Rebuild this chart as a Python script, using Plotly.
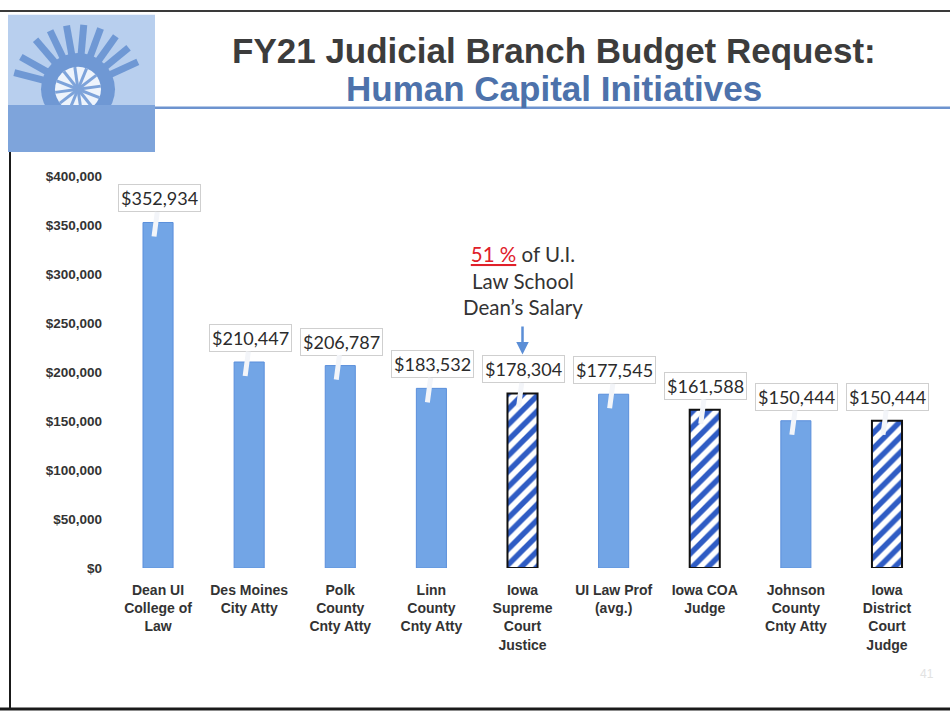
import math
import plotly.graph_objects as go

# ---------------- data ----------------
categories = [
    "Dean UI<br>College of<br>Law",
    "Des Moines<br>City Atty",
    "Polk<br>County<br>Cnty Atty",
    "Linn<br>County<br>Cnty Atty",
    "Iowa<br>Supreme<br>Court<br>Justice",
    "UI Law Prof<br>(avg.)",
    "Iowa COA<br>Judge",
    "Johnson<br>County<br>Cnty Atty",
    "Iowa<br>District<br>Court<br>Judge",
]
salaries = [352934, 210447, 206787, 183532, 178304, 177545, 161588, 150444, 150444]
is_judicial = [False, False, False, False, True, False, True, False, True]
y_ticks = [0, 50000, 100000, 150000, 200000, 250000, 300000, 350000, 400000]

title_line1 = "FY21 Judicial Branch Budget Request:"
title_line2 = "Human Capital Initiatives"
note_text = '<span style="color:#e0202a"><u>51 %</u></span> of U.I.<br>Law School<br>Dean’s Salary'
note_category = categories[4]
note_value = salaries[4]

W, H = 950, 721
def px(x):
    return x / W
def py(y):
    return 1 - y / H

SOLID = "#72a5e6"
SOLID_EDGE = "#5b8fdb"
STRIPE = "#2f5cc4"

solid_x = [c for c, j in zip(categories, is_judicial) if not j]
solid_y = [v for v, j in zip(salaries, is_judicial) if not j]
hatch_x = [c for c, j in zip(categories, is_judicial) if j]
hatch_y = [v for v, j in zip(salaries, is_judicial) if j]

fig = go.Figure()
fig.add_trace(go.Bar(
    x=solid_x, y=solid_y, width=0.33,
    marker=dict(color=SOLID, line=dict(color=SOLID_EDGE, width=1)),
    showlegend=False,
))
fig.add_trace(go.Bar(
    x=hatch_x, y=hatch_y, width=0.33,
    marker=dict(color="white", line=dict(color="#111111", width=2),
                pattern=dict(shape="/", fgcolor=STRIPE, bgcolor="white",
                             fgopacity=1, size=11, solidity=0.5)),
    showlegend=False,
))

annotations = []
# data-label callouts
for c, v in zip(categories, salaries):
    annotations.append(dict(
        x=c, y=v, xref="x", yref="y",
        text="$" + f"{v:,}",
        showarrow=True, arrowhead=0, arrowwidth=5, arrowcolor="#f3f5f9",
        ax=5, ay=-38, xshift=-4, yshift=-14,
        font=dict(family="Lato, Open Sans, sans-serif", size=18, color="#2b2b2b"),
        bgcolor="white", bordercolor="#cfcfcf", borderwidth=1, borderpad=2,
    ))

# comparison note with arrow
annotations.append(dict(
    x=note_category, y=note_value, xref="x", yref="y",
    text=note_text, showarrow=True, arrowhead=2, arrowsize=1, arrowwidth=2.5,
    arrowcolor="#5b8ed6", ax=0, ay=-74, yshift=39, startstandoff=6,
    font=dict(family="Lato, Open Sans, sans-serif", size=20.5, color="#333333"),
    align="center",
))

# titles
annotations.append(dict(
    x=px(554), y=py(44), xref="paper", yref="paper", showarrow=False,
    text="<b>" + title_line1 + "</b>",
    font=dict(family="Liberation Sans, Arial, sans-serif", size=35, color="#3c3c3c"),
    xanchor="center", yanchor="middle",
))
annotations.append(dict(
    x=px(554), y=py(83), xref="paper", yref="paper", showarrow=False,
    text="<b>" + title_line2 + "</b>",
    font=dict(family="Liberation Sans, Arial, sans-serif", size=35, color="#4d72ab"),
    xanchor="center", yanchor="middle",
))
# faint page number
annotations.append(dict(
    x=px(936), y=py(690), xref="paper", yref="paper", showarrow=False,
    text="41", font=dict(family="Liberation Sans, Arial", size=12, color="#e2e2e2"),
))

shapes = []
# logo block
shapes.append(dict(type="rect", xref="paper", yref="paper", x0=px(8), x1=px(155),
                   y0=py(148), y1=py(8), fillcolor="#b8cfee", line=dict(width=0), layer="below"))
cx, cy = 78, 84
for ang in [25, 40, 55, 70, 85, 100, 115, 130, 150, 165]:
    a = math.radians(ang)
    shapes.append(dict(type="line", xref="paper", yref="paper",
                       x0=px(cx + 36 * math.cos(a)), y0=py(cy - 36 * math.sin(a)),
                       x1=px(cx + 66 * math.cos(a)), y1=py(cy - 66 * math.sin(a)),
                       line=dict(color="#6f98d4", width=7), layer="below"))
shapes.append(dict(type="circle", xref="paper", yref="paper",
                   x0=px(cx - 37), x1=px(cx + 37), y0=py(cy + 37), y1=py(cy - 37),
                   fillcolor="#6f98d4", line=dict(width=0), layer="below"))
shapes.append(dict(type="circle", xref="paper", yref="paper",
                   x0=px(cx - 23), x1=px(cx + 23), y0=py(cy + 23), y1=py(cy - 23),
                   fillcolor="#eef4fc", line=dict(width=0), layer="below"))
for k in range(12):
    a = math.radians(k * 30 + 8)
    shapes.append(dict(type="line", xref="paper", yref="paper",
                       x0=px(cx), y0=py(cy),
                       x1=px(cx + 23 * math.cos(a)), y1=py(cy - 23 * math.sin(a)),
                       line=dict(color="#7da3da", width=3), layer="below"))
shapes.append(dict(type="rect", xref="paper", yref="paper", x0=px(8), x1=px(155),
                   y0=py(148), y1=py(100), fillcolor="#7ea4db", line=dict(width=0), layer="below"))
# title rule
shapes.append(dict(type="line", xref="paper", yref="paper", x0=px(155), x1=px(950),
                   y0=py(103), y1=py(103), line=dict(color="#6d93cf", width=2.5)))
# slide border
shapes.append(dict(type="line", xref="paper", yref="paper", x0=px(0), x1=px(950),
                   y0=py(4), y1=py(4), line=dict(color="#3a3a3a", width=2)))
shapes.append(dict(type="line", xref="paper", yref="paper", x0=px(10), x1=px(10),
                   y0=py(148), y1=py(717), line=dict(color="#1a1a1a", width=2)))
shapes.append(dict(type="line", xref="paper", yref="paper", x0=px(0), x1=px(950),
                   y0=py(717), y1=py(717), line=dict(color="#1a1a1a", width=3)))

fig.update_layout(
    width=W, height=H, autosize=False,
    margin=dict(l=0, r=0, t=0, b=0),
    paper_bgcolor="white", plot_bgcolor="white",
    annotations=annotations, shapes=shapes,
    barmode="overlay",
    xaxis=dict(domain=[px(103), px(935)], range=[-0.604, 8.527],
               categoryorder="array", categoryarray=categories,
               showgrid=False, showline=False, zeroline=False, ticks="",
               ticklabelstandoff=12,
               tickfont=dict(family="Liberation Sans, Arial, sans-serif", size=14,
                             color="#333333", weight="bold"),
               tickangle=0, fixedrange=True),
    yaxis=dict(domain=[py(573), py(173)], range=[0, 400000],
               tickvals=y_ticks, tickformat="$,.0f",
               showgrid=False, showline=False, zeroline=False, ticks="",
               tickfont=dict(family="Liberation Sans, Arial, sans-serif", size=13.5,
                             color="#333333", weight="bold"),
               fixedrange=True),
)

fig.write_html("out.html", config={"displayModeBar": False},
               post_script="document.body.style.margin='0';document.body.style.overflow='hidden';")
